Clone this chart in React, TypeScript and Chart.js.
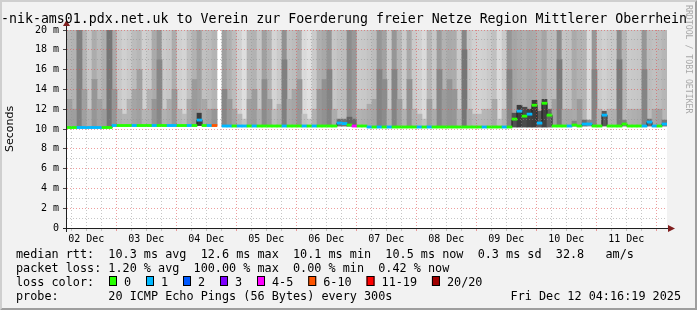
import React, { useEffect, useRef } from 'react';
import { Chart, registerables } from 'chart.js';

Chart.register(...registerables);

// ---- time frame ----
const spanHours = 240; // 10 days
const columnHours = 2; // one smoke column = 2 hours
const startHourOfDay = 4 + 16 / 60 + 19 / 3600; // Dec 2 04:16:19
const dayLabels = ['02 Dec', '03 Dec', '04 Dec', '05 Dec', '06 Dec', '07 Dec', '08 Dec', '09 Dec', '10 Dec', '11 Dec'];
const yMax = 20;

// ---- smoke: upper gray level per column (0-255), null = no data ----
const smokeUpper = [
  182, 178, 140, 180, 198, 172, 185, 175, 130, 170,
  200, 208, 202, 188, 182, 208, 202, 170, 150, 202,
  198, 172, 208, 212, 192, 178, 160, 192, 188, 180,
  null, 160, 175, 188, 208, 222, 182, 178, 198, 160,
  178, 212, 202, 145, 192, 188, 172, 218, 224, 202,
  175, 168, 150, 198, 192, 188, 140, 152, 202, 200,
  195, 188, 150, 162, 202, 150, 180, 202, 168, 202,
  208, 218, 182, 198, 155, 178, 170, 172, 202, 135,
  198, 208, 210, 208, 202, 192, 218, 202, 150, 165,
  170, 175, 168, 170, 178, 165, 188, 188, 140, 195,
  192, 170, 178, 180, 218, 150, 202, 208, 202, 200,
  140, 182, 202, 200, 198, 150, 188, 192, 188, 182,
];

// ---- smoke: darker core gray level per column ----
const smokeCore = [
  160, 158, 128, 160, 175, 150, 162, 155, 118, 150,
  175, 180, 178, 165, 160, 182, 178, 150, 135, 178,
  172, 152, 182, 188, 168, 155, 60, 168, 162, 150,
  null, 135, 152, 165, 182, 195, 160, 156, 175, 140,
  155, 188, 178, 128, 170, 165, 150, 192, 198, 178,
  152, 145, 132, 172, 110, 115, 100, 105, 178, 175,
  170, 165, 132, 140, 178, 132, 158, 178, 145, 178,
  182, 192, 160, 172, 135, 155, 148, 150, 178, 118,
  172, 182, 185, 182, 178, 168, 192, 178, 132, 80,
  60, 75, 65, 60, 90, 65, 100, 160, 122, 170,
  168, 130, 155, 110, 140, 132, 178, 90, 178, 175,
  122, 130, 178, 175, 172, 132, 110, 168, 162, 120,
];

// ---- smoke: top of the darker core (ms) ----
const coreTop = [
  13, 12, 20, 14, 12, 15, 13, 12, 20, 14,
  12, 11.5, 13, 14, 16, 12, 14, 13, 17, 12,
  13, 14, 12, 11.5, 13, 15, 11.6, 13, 12, 12,
  null, 14, 13, 12, 11.5, 11, 13, 14, 12, 15,
  13, 12, 12.5, 17, 13, 14, 15, 11.5, 11, 12,
  14, 15, 16, 12, 11, 11, 11.2, 11, 12, 12,
  12.5, 13, 16, 15, 12, 16, 13, 12, 15, 12,
  11.5, 11, 13, 12, 16, 14, 15, 14, 12, 18,
  12, 11.5, 11.5, 12, 12, 13, 11, 12, 16, 11.6,
  12.4, 12.2, 12.0, 12.9, 11.8, 13.0, 12.0, 13, 17, 12,
  12, 10.8, 13, 10.9, 10.9, 16, 12, 11.8, 12, 12,
  17, 10.9, 12, 12, 12, 16, 11.0, 12, 12, 10.9,
];

// ---- lowest ping (smoke floor, ms) per column ----
const smokeFloor = [
  10.15, 10.15, 10.15, 10.15, 10.15, 10.15, 10.15, 10.15, 10.15, 10.35,
  10.35, 10.35, 10.35, 10.35, 10.35, 10.35, 10.35, 10.35, 10.35, 10.35,
  10.35, 10.35, 10.35, 10.35, 10.35, 10.35, 10.35, 10.35, 10.35, 10.35,
  null, 10.3, 10.3, 10.3, 10.3, 10.3, 10.3, 10.3, 10.3, 10.3,
  10.3, 10.3, 10.3, 10.3, 10.3, 10.3, 10.3, 10.3, 10.3, 10.3,
  10.3, 10.3, 10.3, 10.3, 10.3, 10.3, 10.3, 10.3, 10.3, 10.3,
  10.2, 10.2, 10.2, 10.2, 10.2, 10.2, 10.2, 10.2, 10.2, 10.2,
  10.2, 10.2, 10.2, 10.2, 10.2, 10.2, 10.2, 10.2, 10.2, 10.2,
  10.2, 10.2, 10.2, 10.2, 10.2, 10.2, 10.2, 10.2, 10.2, 10.2,
  10.2, 10.2, 10.2, 10.2, 10.2, 10.2, 10.2, 10.3, 10.3, 10.3,
  10.3, 10.3, 10.3, 10.3, 10.3, 10.3, 10.3, 10.3, 10.3, 10.3,
  10.3, 10.3, 10.3, 10.3, 10.3, 10.3, 10.3, 10.3, 10.3, 10.3,
];

// ---- median rtt (ms) per column ----
const medianRtt = [
  10.15, 10.15, 10.15, 10.15, 10.15, 10.15, 10.15, 10.15, 10.15, 10.35,
  10.35, 10.35, 10.35, 10.35, 10.35, 10.35, 10.35, 10.35, 10.35, 10.35,
  10.35, 10.35, 10.35, 10.35, 10.35, 10.35, 10.9, 10.35, 10.35, 10.35,
  null, 10.3, 10.3, 10.3, 10.3, 10.3, 10.3, 10.3, 10.3, 10.3,
  10.3, 10.3, 10.3, 10.3, 10.3, 10.3, 10.3, 10.3, 10.3, 10.3,
  10.3, 10.3, 10.3, 10.3, 10.6, 10.55, 10.4, 10.3, 10.3, 10.3,
  10.2, 10.2, 10.2, 10.2, 10.2, 10.2, 10.2, 10.2, 10.2, 10.2,
  10.2, 10.2, 10.2, 10.2, 10.2, 10.2, 10.2, 10.2, 10.2, 10.2,
  10.2, 10.2, 10.2, 10.2, 10.2, 10.2, 10.2, 10.2, 10.2, 11.0,
  11.8, 11.3, 11.5, 12.4, 10.6, 12.6, 11.4, 10.3, 10.3, 10.3,
  10.3, 10.4, 10.3, 10.5, 10.5, 10.3, 10.3, 11.4, 10.3, 10.3,
  10.3, 10.5, 10.3, 10.3, 10.3, 10.3, 10.7, 10.3, 10.3, 10.5,
];

// ---- lost pings (of 20) per column ----
const lossCount = [
  0, 0, 1, 1, 1, 1, 1, 0, 0, 1,
  0, 0, 0, 1, 0, 0, 0, 1, 0, 0,
  1, 1, 0, 0, 1, 0, 1, 0, 1, 7,
  null, 1, 1, 0, 1, 1, 0, 1, 0, 0,
  0, 0, 0, 1, 0, 0, 0, 1, 0, 1,
  0, 0, 0, 0, 1, 1, 0, 4, 0, 0,
  1, 0, 1, 0, 1, 0, 0, 0, 0, 0,
  1, 0, 1, 0, 0, 0, 0, 0, 0, 0,
  0, 0, 0, 1, 0, 0, 0, 1, 0, 0,
  1, 0, 1, 0, 1, 0, 0, 0, 0, 0,
  1, 0, 0, 1, 1, 0, 0, 1, 0, 0,
  0, 0, 0, 0, 0, 1, 1, 1, 0, 1,
];

const lossLegend = ['0', '1', '2', '3', '4-5', '6-10', '11-19', '20/20'];
const lossColors = ['#26ff00', '#00b8ff', '#0059ff', '#7e00ff', '#ff00ff', '#ff5500', '#ff0000', '#a10000'];

const titleText = '-nik-ams01.pdx.net.uk to Verein zur Foerderung freier Netze Region Mittlerer Oberrhein';
const medianLine = 'median rtt:  10.3 ms avg  12.6 ms max  10.1 ms min  10.5 ms now  0.3 ms sd  32.8   am/s';
const lossLine = 'packet loss: 1.20 % avg  100.00 % max  0.00 % min  0.42 % now';
const lossColorLabel = 'loss color:';
const probeLine = 'probe:       20 ICMP Echo Pings (56 Bytes) every 300s';
const stampText = 'Fri Dec 12 04:16:19 2025';
const creditText = 'RRDTOOL / TOBI OETIKER';

const W = 697;
const H = 310;
const MONO = '"DejaVu Sans Mono", monospace';
const MAJOR = 'rgba(222,79,79,0.55)';
const MINOR = 'rgba(143,143,143,0.5)';

function lossIndex(n: number): number {
  if (n <= 0) return 0;
  if (n === 1) return 1;
  if (n === 2) return 2;
  if (n === 3) return 3;
  if (n <= 5) return 4;
  if (n <= 10) return 5;
  if (n <= 19) return 6;
  return 7;
}

function hourOfDay(v: number): number {
  const abs = startHourOfDay + v;
  return abs - Math.floor(abs / 24) * 24;
}
function isMidnight(v: number): boolean {
  const h = hourOfDay(v);
  return h < 0.01 || h > 23.99;
}

const gray = (v: number) => `rgb(${v},${v},${v})`;

export default function App() {
  const ref = useRef<HTMLCanvasElement>(null);

  useEffect(() => {
    document.body.style.margin = '0';
    const canvas = ref.current!;
    const cols = smokeUpper.map((_, i) => i);
    const xOf = (i: number) => i * columnHours + columnHours / 2;
    const valid = cols.filter((i) => medianRtt[i] != null);

    const gridHours: number[] = [];
    for (let h = Math.ceil(startHourOfDay / 6) * 6 - startHourOfDay; h <= spanHours; h += 6) gridHours.push(h);

    const barCommon = {
      type: 'bar' as const,
      grouped: false,
      barPercentage: 1,
      categoryPercentage: 1,
      borderWidth: 0,
    };

    const decor = {
      id: 'decor',
      beforeDraw(c: any) {
        const ctx = c.ctx as CanvasRenderingContext2D;
        const { left, top, right, bottom } = c.chartArea;
        ctx.save();
        ctx.fillStyle = '#f2f2f2';
        ctx.fillRect(0, 0, W, H);
        ctx.fillStyle = '#cfcfcf';
        ctx.beginPath();
        ctx.moveTo(0, H); ctx.lineTo(2, H - 2); ctx.lineTo(2, 2); ctx.lineTo(W - 2, 2); ctx.lineTo(W, 0); ctx.lineTo(0, 0);
        ctx.closePath(); ctx.fill();
        ctx.fillStyle = '#9e9e9e';
        ctx.beginPath();
        ctx.moveTo(2, H - 2); ctx.lineTo(W - 2, H - 2); ctx.lineTo(W - 2, 2); ctx.lineTo(W, 0); ctx.lineTo(W, H); ctx.lineTo(0, H);
        ctx.closePath(); ctx.fill();
        ctx.fillStyle = '#ffffff';
        ctx.fillRect(left, top, right - left, bottom - top);
        ctx.restore();
      },
      afterDraw(c: any) {
        const ctx = c.ctx as CanvasRenderingContext2D;
        const { left, top, right, bottom } = c.chartArea;
        ctx.save();
        // axes
        ctx.strokeStyle = '#1f1f1f';
        ctx.lineWidth = 1;
        ctx.beginPath();
        ctx.moveTo(left - 4, bottom + 0.5);
        ctx.lineTo(right + 4, bottom + 0.5);
        ctx.moveTo(left - 0.5, bottom + 4);
        ctx.lineTo(left - 0.5, top - 5);
        ctx.stroke();
        ctx.fillStyle = '#801f1f';
        ctx.beginPath();
        ctx.moveTo(right + 1, bottom - 3); ctx.lineTo(right + 8, bottom + 0.5); ctx.lineTo(right + 1, bottom + 4);
        ctx.closePath(); ctx.fill();
        ctx.beginPath();
        ctx.moveTo(left - 4, top - 4); ctx.lineTo(left - 0.5, top - 10); ctx.lineTo(left + 3, top - 4);
        ctx.closePath(); ctx.fill();

        // title
        ctx.fillStyle = '#000';
        ctx.textBaseline = 'alphabetic';
        ctx.textAlign = 'left';
        ctx.font = `13.25px ${MONO}`;
        ctx.fillText(titleText, 1, 23);

        // legend
        ctx.font = `11.8px ${MONO}`;
        ctx.fillText(medianLine, 16, 258);
        ctx.fillText(lossLine, 16, 272);
        ctx.fillText(lossColorLabel, 16, 286);
        ctx.fillText(probeLine, 16, 300);
        ctx.textAlign = 'right';
        ctx.fillText(stampText, 681, 300);
        ctx.textAlign = 'left';
        let bx = 109;
        lossLegend.forEach((lab, k) => {
          ctx.fillStyle = lossColors[k];
          ctx.fillRect(bx, 276, 8, 10);
          ctx.strokeStyle = '#000';
          ctx.strokeRect(bx + 0.5, 276.5, 7, 9);
          ctx.fillStyle = '#000';
          ctx.fillText(lab, bx + 15, 286);
          bx += 15 + ctx.measureText(lab).width + 14.9;
        });

        // credit
        ctx.save();
        ctx.translate(688, 5);
        ctx.rotate(Math.PI / 2);
        ctx.font = `8.2px ${MONO}`;
        ctx.fillStyle = '#a8a8a8';
        ctx.textBaseline = 'middle';
        ctx.fillText(creditText, 0, 0);
        ctx.restore();
        ctx.restore();
      },
    };

    const chart = new Chart(canvas, {
      type: 'bar',
      data: {
        datasets: [
          {
            ...barCommon,
            label: 'median rtt',
            data: valid.map((i) => ({ x: xOf(i), y: [(medianRtt[i] as number) - 0.11, (medianRtt[i] as number) + 0.11] })),
            backgroundColor: valid.map((i) => lossColors[lossIndex(lossCount[i] as number)]),
            order: 0,
          },
          {
            type: 'line',
            label: 'median step',
            data: cols.map((i) => ({ x: xOf(i), y: medianRtt[i] })),
            borderColor: '#1f1f1f',
            borderWidth: 1,
            pointRadius: 0,
            stepped: 'middle',
            spanGaps: false,
            order: 1,
          },
          {
            ...barCommon,
            label: 'smoke core',
            data: valid.map((i) => ({ x: xOf(i), y: [smokeFloor[i], coreTop[i]] })),
            backgroundColor: valid.map((i) => gray(smokeCore[i] as number)),
            order: 2,
          },
          {
            ...barCommon,
            label: 'smoke',
            data: valid.map((i) => ({ x: xOf(i), y: [smokeFloor[i], yMax] })),
            backgroundColor: valid.map((i) => gray(smokeUpper[i] as number)),
            order: 3,
          },
        ] as any,
      },
      options: {
        animation: false,
        responsive: false,
        events: [],
        layout: { padding: { left: 0, right: 30, top: 30, bottom: 0 } },
        plugins: { legend: { display: false }, tooltip: { enabled: false }, title: { display: false } },
        scales: {
          x: {
            type: 'linear',
            min: 0,
            max: spanHours,
            offset: false,
            afterFit: (s: any) => { s.height = 82; },
            afterBuildTicks: (s: any) => { s.ticks = gridHours.map((v) => ({ value: v })); },
            ticks: {
              autoSkip: false,
              maxRotation: 0,
              minRotation: 0,
              padding: 2,
              color: '#000',
              font: { family: MONO, size: 10 },
              callback: (v: any) => {
                const abs = startHourOfDay + Number(v);
                const d = Math.floor(abs / 24);
                const h = abs - d * 24;
                return Math.abs(h - 12) < 0.01 ? dayLabels[d] || '' : '';
              },
            },
            grid: {
              z: 1,
              offset: false,
              lineWidth: 1,
              tickLength: 3,
              color: (ctx: any) => (ctx.tick && isMidnight(ctx.tick.value) ? MAJOR : MINOR),
              tickColor: (ctx: any) => (ctx.tick && isMidnight(ctx.tick.value) ? MAJOR : MINOR),
              tickBorderDash: [],
            },
            border: { display: false, dash: [1, 2] },
          },
          y: {
            min: 0,
            max: yMax,
            afterFit: (s: any) => { s.width = 67; },
            ticks: {
              stepSize: 1,
              autoSkip: false,
              padding: 4,
              color: '#000',
              font: { family: MONO, size: 10 },
              callback: (v: any) => (Number(v) % 2 === 0 ? (Number(v) === 0 ? '0' : `${v} m`) : ''),
            },
            grid: {
              z: 1,
              lineWidth: 1,
              tickLength: 4,
              color: (ctx: any) => (ctx.tick && ctx.tick.value % 2 === 0 ? MAJOR : MINOR),
              tickColor: (ctx: any) => (ctx.tick && ctx.tick.value % 2 === 0 ? 'rgba(31,31,31,0.8)' : 'rgba(0,0,0,0)'),
              tickBorderDash: [],
            },
            border: { display: false, dash: [1, 2] },
            title: {
              display: true,
              text: 'Seconds',
              color: '#000',
              font: { family: '"DejaVu Sans", sans-serif', size: 11 },
              padding: { top: 4, bottom: 0 },
            },
          },
        },
      } as any,
      plugins: [decor],
    });

    return () => chart.destroy();
  }, []);

  return (
    <div style={{ width: W, height: H }}>
      <canvas ref={ref} width={W} height={H} style={{ display: 'block', width: W, height: H }} />
    </div>
  );
}
